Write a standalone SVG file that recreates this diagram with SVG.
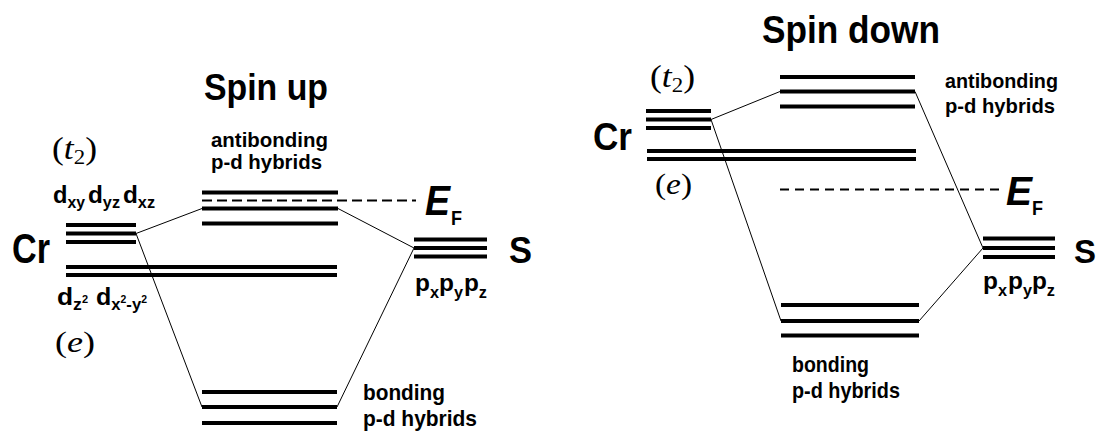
<svg xmlns="http://www.w3.org/2000/svg" width="1101" height="440" viewBox="0 0 1101 440">
<style>
.lv{stroke:#000;stroke-width:4;fill:none}
.cn{stroke:#000;stroke-width:1;fill:none}
.ef{stroke:#000;stroke-width:2.2;stroke-dasharray:10 5;fill:none}
.b{font-family:"Liberation Sans",Arial,sans-serif;font-weight:bold;fill:#000}
.m{font-family:"Liberation Serif","Times New Roman",serif;fill:#000}
</style>
<rect width="1101" height="440" fill="#fff"/>
<g id="connectors">
<line class="cn" x1="136" y1="233.5" x2="202" y2="208.5"/>
<line class="cn" x1="338" y1="208.5" x2="414" y2="248"/>
<line class="cn" x1="136" y1="233.5" x2="202" y2="407"/>
<line class="cn" x1="414" y1="248" x2="337" y2="407"/>
<line class="cn" x1="711" y1="119.5" x2="780" y2="91.5"/>
<line class="cn" x1="711" y1="119.5" x2="781" y2="321"/>
<line class="cn" x1="915" y1="91.5" x2="983" y2="248"/>
<line class="cn" x1="983" y1="248" x2="919" y2="321"/>
</g>
<g id="spin-up">
<text class="b" x="204" y="100" font-size="37" textLength="124" lengthAdjust="spacingAndGlyphs">Spin up</text>
<g id="cr-up">
<text class="b" x="12" y="263" font-size="42" textLength="38" lengthAdjust="spacingAndGlyphs">Cr</text>
<text class="m" x="52" y="159" font-size="31" textLength="45" lengthAdjust="spacingAndGlyphs">(<tspan font-style="italic">t</tspan><tspan font-size="20" dy="5">2</tspan><tspan dy="-5">)</tspan></text>
<text class="b" x="53" y="203" font-size="24" textLength="32" lengthAdjust="spacingAndGlyphs">d<tspan font-size="16" dy="5">xy</tspan></text>
<text class="b" x="88" y="203" font-size="24" textLength="32" lengthAdjust="spacingAndGlyphs">d<tspan font-size="16" dy="5">yz</tspan></text>
<text class="b" x="123" y="203" font-size="24" textLength="32" lengthAdjust="spacingAndGlyphs">d<tspan font-size="16" dy="5">xz</tspan></text>
<line class="lv" x1="66" y1="225" x2="136" y2="225"/>
<line class="lv" x1="66" y1="233.5" x2="136" y2="233.5"/>
<line class="lv" x1="66" y1="242" x2="136" y2="242"/>
<line class="lv" x1="66" y1="267" x2="337" y2="267"/>
<line class="lv" x1="66" y1="275" x2="337" y2="275"/>
<text class="b" x="57" y="305" font-size="24" textLength="31" lengthAdjust="spacingAndGlyphs">d<tspan font-size="16" dy="5">z</tspan><tspan font-size="10" dy="-7">2</tspan></text>
<text class="b" x="96" y="305" font-size="24" textLength="51" lengthAdjust="spacingAndGlyphs">d<tspan font-size="16" dy="5">x</tspan><tspan font-size="10" dy="-7">2</tspan><tspan font-size="16" dy="7">-y</tspan><tspan font-size="10" dy="-7">2</tspan></text>
<text class="m" x="55" y="352" font-size="30" textLength="40" lengthAdjust="spacingAndGlyphs">(<tspan font-style="italic">e</tspan>)</text>
</g>
<g id="antibonding-up">
<text class="b" x="211" y="147" font-size="21" textLength="117" lengthAdjust="spacingAndGlyphs">antibonding</text>
<text class="b" x="211" y="169" font-size="21" textLength="111" lengthAdjust="spacingAndGlyphs">p-d hybrids</text>
<line class="lv" x1="202" y1="192.5" x2="338" y2="192.5"/>
<line class="lv" x1="202" y1="208.5" x2="338" y2="208.5"/>
<line class="lv" x1="202" y1="223.5" x2="338" y2="223.5"/>
</g>
<g id="ef-up">
<line class="ef" x1="202" y1="200.5" x2="416" y2="200.5"/>
<text class="b" x="425" y="215" font-size="42" font-style="italic" textLength="25" lengthAdjust="spacingAndGlyphs">E</text>
<text class="b" x="451" y="225" font-size="21" textLength="11" lengthAdjust="spacingAndGlyphs">F</text>
</g>
<g id="s-up">
<line class="lv" x1="414" y1="239.5" x2="487" y2="239.5"/>
<line class="lv" x1="414" y1="248" x2="487" y2="248"/>
<line class="lv" x1="414" y1="256.5" x2="487" y2="256.5"/>
<text class="b" x="509" y="263" font-size="36" textLength="23" lengthAdjust="spacingAndGlyphs">S</text>
<text class="b" x="415" y="291" font-size="24" textLength="24" lengthAdjust="spacingAndGlyphs">p<tspan font-size="16" dy="7">x</tspan></text>
<text class="b" x="439" y="291" font-size="24" textLength="24" lengthAdjust="spacingAndGlyphs">p<tspan font-size="16" dy="7">y</tspan></text>
<text class="b" x="464" y="291" font-size="24" textLength="23" lengthAdjust="spacingAndGlyphs">p<tspan font-size="16" dy="7">z</tspan></text>
</g>
<g id="bonding-up">
<line class="lv" x1="202" y1="392" x2="337" y2="392"/>
<line class="lv" x1="202" y1="407" x2="337" y2="407"/>
<line class="lv" x1="202" y1="423" x2="337" y2="423"/>
<text class="b" x="363" y="400" font-size="22" textLength="82" lengthAdjust="spacingAndGlyphs">bonding</text>
<text class="b" x="363" y="426" font-size="22" textLength="114" lengthAdjust="spacingAndGlyphs">p-d hybrids</text>
</g>
</g>
<g id="spin-down">
<text class="b" x="762" y="43" font-size="38" textLength="178" lengthAdjust="spacingAndGlyphs">Spin down</text>
<g id="cr-down">
<text class="b" x="593" y="150" font-size="38" textLength="39" lengthAdjust="spacingAndGlyphs">Cr</text>
<text class="m" x="650" y="87" font-size="31" textLength="45" lengthAdjust="spacingAndGlyphs">(<tspan font-style="italic">t</tspan><tspan font-size="20" dy="5">2</tspan><tspan dy="-5">)</tspan></text>
<line class="lv" x1="646" y1="111" x2="711" y2="111"/>
<line class="lv" x1="646" y1="119.5" x2="711" y2="119.5"/>
<line class="lv" x1="646" y1="128" x2="711" y2="128"/>
<line class="lv" x1="647" y1="151" x2="916" y2="151"/>
<line class="lv" x1="647" y1="159" x2="916" y2="159"/>
<text class="m" x="655" y="194" font-size="30" textLength="37" lengthAdjust="spacingAndGlyphs">(<tspan font-style="italic">e</tspan>)</text>
</g>
<g id="antibonding-down">
<line class="lv" x1="780" y1="77" x2="915" y2="77"/>
<line class="lv" x1="780" y1="91.5" x2="915" y2="91.5"/>
<line class="lv" x1="780" y1="106.5" x2="915" y2="106.5"/>
<text class="b" x="945" y="88" font-size="21" textLength="113" lengthAdjust="spacingAndGlyphs">antibonding</text>
<text class="b" x="945" y="113" font-size="21" textLength="110" lengthAdjust="spacingAndGlyphs">p-d hybrids</text>
</g>
<g id="ef-down">
<line class="ef" x1="780" y1="189.5" x2="1003" y2="189.5" style="stroke-width:2;stroke-dasharray:9 6"/>
<text class="b" x="1006" y="205" font-size="40" font-style="italic" textLength="26" lengthAdjust="spacingAndGlyphs">E</text>
<text class="b" x="1032" y="215" font-size="21" textLength="11" lengthAdjust="spacingAndGlyphs">F</text>
</g>
<g id="s-down">
<line class="lv" x1="983" y1="238.5" x2="1055" y2="238.5"/>
<line class="lv" x1="983" y1="248" x2="1055" y2="248"/>
<line class="lv" x1="983" y1="257" x2="1055" y2="257"/>
<text class="b" x="1074" y="263" font-size="34" textLength="22" lengthAdjust="spacingAndGlyphs">S</text>
<text class="b" x="983" y="289" font-size="24" textLength="24" lengthAdjust="spacingAndGlyphs">p<tspan font-size="16" dy="7">x</tspan></text>
<text class="b" x="1008" y="289" font-size="24" textLength="24" lengthAdjust="spacingAndGlyphs">p<tspan font-size="16" dy="7">y</tspan></text>
<text class="b" x="1032" y="289" font-size="24" textLength="23" lengthAdjust="spacingAndGlyphs">p<tspan font-size="16" dy="7">z</tspan></text>
</g>
<g id="bonding-down">
<line class="lv" x1="781" y1="305" x2="919" y2="305"/>
<line class="lv" x1="781" y1="321" x2="919" y2="321"/>
<line class="lv" x1="781" y1="335.5" x2="919" y2="335.5"/>
<text class="b" x="792" y="372" font-size="22" textLength="77" lengthAdjust="spacingAndGlyphs">bonding</text>
<text class="b" x="792" y="398" font-size="22" textLength="108" lengthAdjust="spacingAndGlyphs">p-d hybrids</text>
</g>
</g>
</svg>
